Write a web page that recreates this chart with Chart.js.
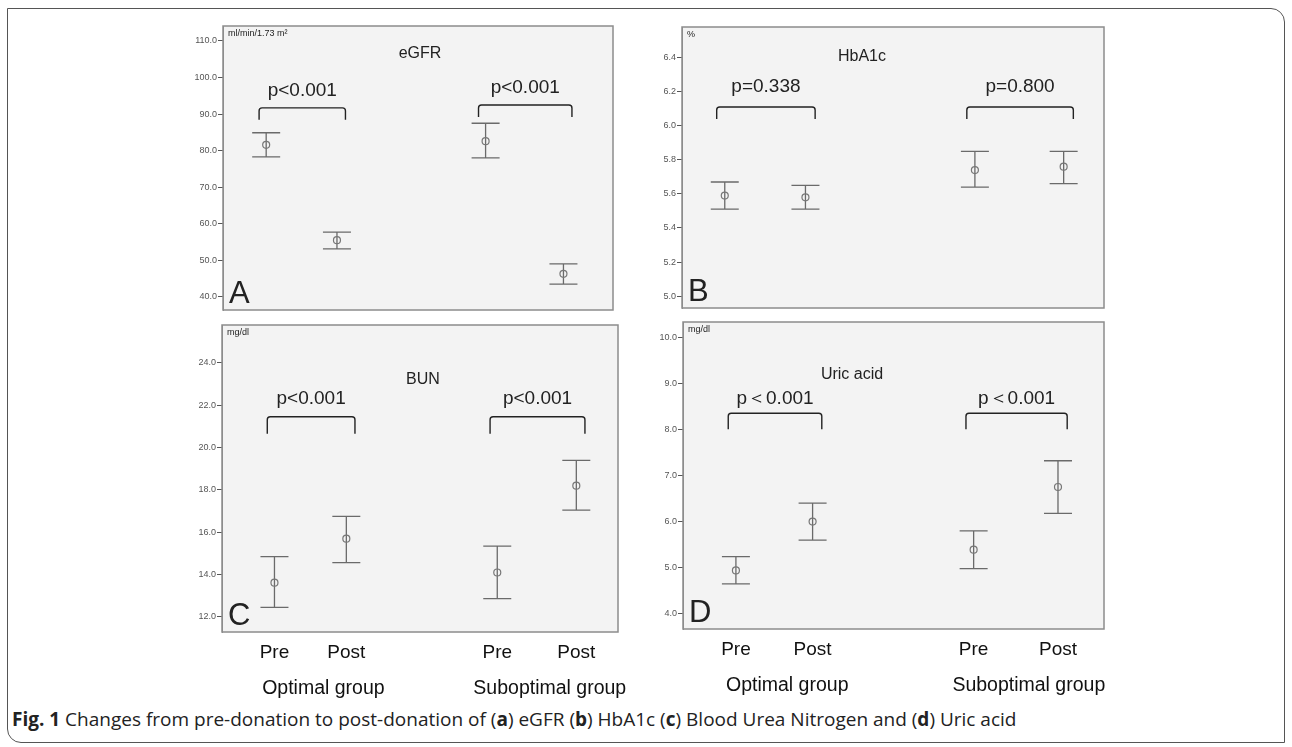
<!DOCTYPE html>
<html>
<head>
<meta charset="utf-8">
<script src="https://cdn.jsdelivr.net/npm/chart.js@4.4.1/dist/chart.umd.min.js"></script>
<style>
  body { margin: 0; background: #fff; }
  #page { position: relative; width: 1292px; height: 747px; overflow: hidden; font-family: 'Liberation Sans', Arial, sans-serif; }
  #frame { position: absolute; left: 7px; top: 8px; width: 1276px; height: 733px; border: 1.5px solid #555; border-radius: 0 14px 0 14px; }
  .panel { position: absolute; }
  #caption { position: absolute; left: 12px; top: 706px; font-family: 'Open Sans', sans-serif; font-size: 19px; color: #222; white-space: nowrap; }
  #caption b { font-weight: 700; }
</style>
</head>
<body>
<div id="page">
  <div id="frame"></div>
  <div id="caption"><b>Fig. 1</b> Changes from pre-donation to post-donation of (<b>a</b>) eGFR (<b>b</b>) HbA1c (<b>c</b>) Blood Urea Nitrogen and (<b>d</b>) Uric acid</div>
</div>
<script>
// x categories: two groups, each measured pre and post donation
const groups = ['Optimal group', 'Suboptimal group'];
const timepoints = ['Pre', 'Post', 'Pre', 'Post'];
const xPos = [1, 2, 4.1, 5.2];

// eGFR (ml/min/1.73 m2): mean and 95% CI
const egfrMean = [81.6, 55.5, 82.6, 46.3];
const egfrLower = [78.3, 53.1, 78.0, 43.5];
const egfrUpper = [84.9, 57.7, 87.5, 49.0];
const egfrTicks = [40, 50, 60, 70, 80, 90, 100, 110];
const egfrP = ['p<0.001', 'p<0.001'];

// HbA1c (%)
const hba1cMean = [5.59, 5.58, 5.74, 5.76];
const hba1cLower = [5.51, 5.51, 5.64, 5.66];
const hba1cUpper = [5.67, 5.65, 5.85, 5.85];
const hba1cTicks = [5.0, 5.2, 5.4, 5.6, 5.8, 6.0, 6.2, 6.4];
const hba1cP = ['p=0.338', 'p=0.800'];

// BUN (mg/dl)
const bunMean = [13.62, 15.7, 14.1, 18.2];
const bunLower = [12.45, 14.57, 12.87, 17.05];
const bunUpper = [14.85, 16.75, 15.35, 19.4];
const bunTicks = [12, 14, 16, 18, 20, 22, 24];
const bunP = ['p<0.001', 'p<0.001'];

// Uric acid (mg/dl)
const uricMean = [4.94, 6.0, 5.39, 6.75];
const uricLower = [4.65, 5.6, 4.98, 6.18];
const uricUpper = [5.24, 6.4, 5.8, 7.32];
const uricTicks = [4, 5, 6, 7, 8, 9, 10];
const uricP = ['p\uFF1C0.001', 'p\uFF1C0.001'];

const panels = [
  { letter: 'A', title: 'eGFR', unit: 'ml/min/1.73 m\u00B2', mean: egfrMean, lower: egfrLower, upper: egfrUpper, ticks: egfrTicks, p: egfrP,
    area: { left: 223, top: 26, right: 613, bottom: 310 }, yMin: 36.4, yMax: 114.1, xMin: 0.39, xMax: 5.9,
    bracketY: [91.7, 92.5], textGap: 17, drop: 12, titleX: 197, titleY: 28, showX: false },
  { letter: 'B', title: 'HbA1c', unit: '%', mean: hba1cMean, lower: hba1cLower, upper: hba1cUpper, ticks: hba1cTicks, p: hba1cP,
    area: { left: 682, top: 27, right: 1104, bottom: 308 }, yMin: 4.93, yMax: 6.58, xMin: 0.47, xMax: 5.7,
    bracketY: [6.11, 6.11], textGap: 20, drop: 12, titleX: 180, titleY: 30, showX: false },
  { letter: 'C', title: 'BUN', unit: 'mg/dl', mean: bunMean, lower: bunLower, upper: bunUpper, ticks: bunTicks, p: bunP,
    area: { left: 222, top: 325, right: 618, bottom: 632 }, yMin: 11.29, yMax: 25.79, xMin: 0.27, xMax: 5.78,
    bracketY: [21.46, 21.46], textGap: 18, drop: 17, titleX: 201, titleY: 55, showX: true },
  { letter: 'D', title: 'Uric acid', unit: 'mg/dl', mean: uricMean, lower: uricLower, upper: uricUpper, ticks: uricTicks, p: uricP,
    area: { left: 683, top: 322, right: 1104, bottom: 629 }, yMin: 3.67, yMax: 10.33, xMin: 0.31, xMax: 5.8,
    bracketY: [8.35, 8.35], textGap: 15, drop: 16, titleX: 169, titleY: 53, showX: true }
];

const Y_W = 50, PAD = 10, LABEL_H = 80;

const panelPlugin = {
  id: 'panelDecor',
  beforeDraw(chart) {
    const a = chart.chartArea, ctx = chart.ctx;
    ctx.save();
    ctx.fillStyle = '#f3f3f3';
    ctx.fillRect(a.left, a.top, a.right - a.left, a.bottom - a.top);
    ctx.restore();
  },
  beforeDatasetsDraw(chart) {
    const cfg = chart.options.plugins.panelDecor;
    const xs = chart.scales.x, ys = chart.scales.y, ctx = chart.ctx;
    ctx.save();
    ctx.strokeStyle = '#6a6a6a';
    ctx.lineWidth = 1.3;
    xPos.forEach((xv, i) => {
      const x = xs.getPixelForValue(xv);
      const yl = ys.getPixelForValue(cfg.lower[i]);
      const yu = ys.getPixelForValue(cfg.upper[i]);
      ctx.beginPath();
      ctx.moveTo(x, yl); ctx.lineTo(x, yu);
      ctx.moveTo(x - 14, yl); ctx.lineTo(x + 14, yl);
      ctx.moveTo(x - 14, yu); ctx.lineTo(x + 14, yu);
      ctx.stroke();
    });
    ctx.restore();
  },
  afterDraw(chart) {
    const cfg = chart.options.plugins.panelDecor;
    const a = chart.chartArea, ctx = chart.ctx;
    const xs = chart.scales.x, ys = chart.scales.y;
    ctx.save();
    // plot frame
    ctx.strokeStyle = '#8c8c8c';
    ctx.lineWidth = 1.5;
    ctx.strokeRect(a.left, a.top, a.right - a.left, a.bottom - a.top);

    ctx.fillStyle = '#222';
    ctx.textBaseline = 'middle';
    ctx.font = "9px 'Liberation Sans', Arial, sans-serif";
    ctx.textAlign = 'left';
    ctx.fillText(cfg.unit, a.left + 5, a.top + 8);

    ctx.font = "16px 'Liberation Sans', Arial, sans-serif";
    ctx.textAlign = 'center';
    ctx.fillText(cfg.title, a.left + cfg.titleX, a.top + cfg.titleY);

    ctx.font = "31px 'Liberation Sans', Arial, sans-serif";
    ctx.textAlign = 'left';
    ctx.textBaseline = 'alphabetic';
    ctx.fillText(cfg.letter, a.left + 6, a.bottom - 7);

    // significance brackets
    ctx.strokeStyle = '#222';
    ctx.lineWidth = 1.4;
    ctx.font = "19px 'Liberation Sans', Arial, sans-serif";
    ctx.textAlign = 'center';
    ctx.textBaseline = 'middle';
    cfg.p.forEach((txt, k) => {
      const x1 = xs.getPixelForValue(xPos[2 * k] - 0.1);
      const x2 = xs.getPixelForValue(xPos[2 * k + 1] + 0.12);
      const y = ys.getPixelForValue(cfg.bracketY[k]);
      ctx.beginPath();
      ctx.moveTo(x1, y + cfg.drop);
      ctx.lineTo(x1, y + 3);
      ctx.quadraticCurveTo(x1, y, x1 + 3, y);
      ctx.lineTo(x2 - 3, y);
      ctx.quadraticCurveTo(x2, y, x2, y + 3);
      ctx.lineTo(x2, y + cfg.drop);
      ctx.stroke();
      ctx.fillText(txt, (x1 + x2) / 2, y - cfg.textGap);
    });

    // category labels under the bottom row
    if (cfg.showX) {
      ctx.fillStyle = '#111';
      ctx.font = "19px 'Liberation Sans', Arial, sans-serif";
      timepoints.forEach((t, i) => {
        ctx.fillText(t, xs.getPixelForValue(xPos[i]), a.bottom + 21);
      });
      ctx.font = "19.5px 'Liberation Sans', Arial, sans-serif";
      groups.forEach((g, k) => {
        const xc = (xPos[2 * k] + xPos[2 * k + 1]) / 2;
        ctx.fillText(g, xs.getPixelForValue(xc) + 13, a.bottom + 57);
      });
    }
    ctx.restore();
  }
};

function makePanel(cfg) {
  const a = cfg.area;
  const w = (a.right - a.left) + Y_W + 2 * PAD;
  const bottomPad = cfg.showX ? LABEL_H : PAD;
  const h = (a.bottom - a.top) + PAD + bottomPad;
  const div = document.createElement('div');
  div.className = 'panel';
  div.style.left = (a.left - Y_W - PAD) + 'px';
  div.style.top = (a.top - PAD) + 'px';
  const canvas = document.createElement('canvas');
  canvas.width = w; canvas.height = h;
  canvas.style.width = w + 'px'; canvas.style.height = h + 'px';
  div.appendChild(canvas);
  document.getElementById('page').appendChild(div);

  new Chart(canvas.getContext('2d'), {
    type: 'scatter',
    data: {
      datasets: [{
        data: xPos.map((x, i) => ({ x: x, y: cfg.mean[i] })),
        pointStyle: 'circle',
        pointRadius: 3.5,
        borderColor: '#777',
        backgroundColor: 'rgba(0,0,0,0)',
        borderWidth: 1.2
      }]
    },
    options: {
      responsive: false,
      animation: false,
      devicePixelRatio: 1,
      layout: { padding: { left: PAD, right: PAD, top: PAD, bottom: bottomPad } },
      plugins: {
        legend: { display: false },
        tooltip: { enabled: false },
        panelDecor: cfg
      },
      scales: {
        x: { type: 'linear', min: cfg.xMin, max: cfg.xMax, display: false },
        y: {
          type: 'linear', min: cfg.yMin, max: cfg.yMax,
          afterBuildTicks: s => { s.ticks = cfg.ticks.map(v => ({ value: v })); },
          afterFit: s => { s.width = Y_W; },
          grid: { drawOnChartArea: false, drawTicks: true, tickLength: 5, color: '#555', lineWidth: 1 },
          border: { display: true, color: '#8c8c8c' },
          ticks: {
            padding: 1, color: '#555',
            font: { family: "'Liberation Sans', Arial, sans-serif", size: 9 },
            callback: v => v.toFixed(1)
          }
        }
      }
    },
    plugins: [panelPlugin]
  });
}

panels.forEach(makePanel);
</script>
</body>
</html>
